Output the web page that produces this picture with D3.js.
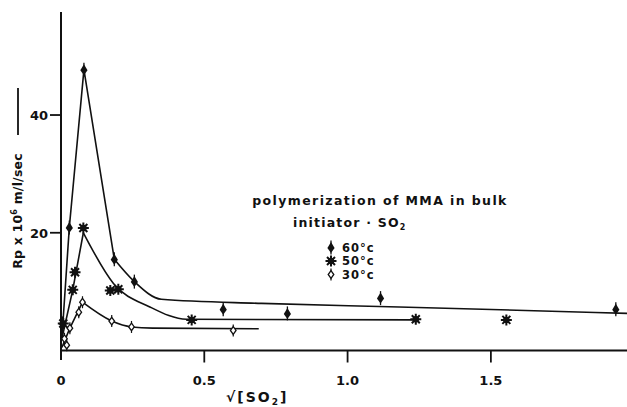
<!DOCTYPE html>
<html>
<head>
<meta charset="utf-8">
<script src="https://cdn.jsdelivr.net/npm/d3@7"></script>
<style>
  body { margin: 0; background: #fff; }
  svg text { font-family: "DejaVu Sans", sans-serif; fill: #111; }
</style>
</head>
<body>
<svg id="chart" width="627" height="407"></svg>
<script>
const x60 = [0.005, 0.029, 0.08, 0.186, 0.256, 0.566, 0.79, 1.115, 1.936];
const y60 = [4.6, 20.9, 47.7, 15.5, 11.7, 7.0, 6.3, 8.9, 7.0];
const x50 = [0.008, 0.041, 0.049, 0.078, 0.172, 0.2, 0.456, 1.238, 1.554];
const y50 = [4.6, 10.3, 13.3, 20.8, 10.2, 10.4, 5.2, 5.3, 5.2];
const x30 = [0.012, 0.02, 0.031, 0.062, 0.075, 0.177, 0.246, 0.601];
const y30 = [2.0, 0.9, 3.8, 6.5, 8.2, 5.0, 4.0, 3.4];

// Hand-drawn fit curves: rising part (straight) and decay part (smooth)
const rise60 = [[0.003, 2], [0.029, 20.9], [0.08, 47.7], [0.186, 15.5]];
const tail60 = [[0.186, 15.5], [0.256, 11.7], [0.35, 8.7], [0.7, 8.0], [1.18, 7.4], [1.975, 6.3]];
const rise50 = [[0.003, 2], [0.041, 10.3], [0.078, 20.0]];
const tail50 = [[0.078, 20.0], [0.183, 11.4], [0.31, 7.4], [0.438, 5.3], [1.238, 5.2]];
const rise30 = [[0.003, 0.5], [0.031, 3.8], [0.075, 8.2]];
const tail30 = [[0.075, 8.2], [0.177, 5.0], [0.246, 4.0], [0.32, 3.8], [0.69, 3.7]];

const xTicks = [0, 0.5, 1.0, 1.5];
const xTickLabels = ['0', '0.5', '1.0', '1.5'];
const yTicks = [20, 40];
const legendLabels = ['60°c', '50°c', '30°c'];

const svg = d3.select('#chart');

const x = d3.scaleLinear().domain([0, 1.975]).range([61, 627]);
const y = d3.scaleLinear().domain([0, 57.5]).range([350.5, 12]);

// Axes
svg.append('line').attr('x1', x(0)).attr('x2', 627).attr('y1', y(0)).attr('y2', y(0))
    .attr('stroke', '#111').attr('stroke-width', 2);
svg.append('line').attr('x1', x(0)).attr('x2', x(0)).attr('y1', 12).attr('y2', 360)
    .attr('stroke', '#111').attr('stroke-width', 2);

svg.selectAll('.xtick').data(xTicks.slice(1)).enter().append('line')
    .attr('x1', d => x(d)).attr('x2', d => x(d))
    .attr('y1', y(0)).attr('y2', y(0) + 12)
    .attr('stroke', '#111').attr('stroke-width', 1.8);
svg.selectAll('.xlab').data(xTicks).enter().append('text')
    .attr('x', d => x(d)).attr('y', 385)
    .attr('text-anchor', 'middle').attr('font-size', 13).attr('font-weight', 'bold')
    .text((d, i) => xTickLabels[i]);

svg.selectAll('.ytick').data(yTicks).enter().append('line')
    .attr('x1', x(0) - 11).attr('x2', x(0))
    .attr('y1', d => y(d)).attr('y2', d => y(d))
    .attr('stroke', '#111').attr('stroke-width', 1.8);
svg.selectAll('.ylab').data(yTicks).enter().append('text')
    .attr('x', 48).attr('y', d => y(d) + 5)
    .attr('text-anchor', 'end').attr('font-size', 13).attr('font-weight', 'bold')
    .text(d => d);

// x label
const xl = svg.append('text').attr('x', 226).attr('y', 402)
    .attr('font-size', 14).attr('font-weight', 'bold').attr('letter-spacing', 2);
xl.append('tspan').text('√[SO');
xl.append('tspan').attr('font-size', 9).attr('dy', 3).text('2');
xl.append('tspan').attr('dy', -3).text(']');

// y label
const yl = svg.append('g').attr('transform', 'translate(22,211) rotate(-90)');
const ylt = yl.append('text').attr('text-anchor', 'middle')
    .attr('font-size', 12.5).attr('font-weight', 'bold').attr('letter-spacing', 0.2);
ylt.append('tspan').text('Rp x 10');
ylt.append('tspan').attr('font-size', 8).attr('dy', -5).text('6');
ylt.append('tspan').attr('dy', 5).text(' m/l/sec');
yl.append('line').attr('x1', 76).attr('x2', 123).attr('y1', -4).attr('y2', -4)
    .attr('stroke', '#111').attr('stroke-width', 1.8);

// Curves
const straight = d3.line().x(d => x(d[0])).y(d => y(d[1]));
const smooth = d3.line().x(d => x(d[0])).y(d => y(d[1])).curve(d3.curveMonotoneX);
[rise60, rise50, rise30].forEach(c => {
    svg.append('path').attr('d', straight(c)).attr('fill', 'none')
        .attr('stroke', '#111').attr('stroke-width', 1.6);
});
[tail60, tail50, tail30].forEach(c => {
    svg.append('path').attr('d', smooth(c)).attr('fill', 'none')
        .attr('stroke', '#111').attr('stroke-width', 1.6);
});

// Marker drawers
function mark60(g) {
    g.append('path').attr('d', 'M0,-7V7').attr('stroke', '#111').attr('stroke-width', 1.3);
    g.append('path').attr('d', 'M0,-5.5L3.6,0.5L0,5.5L-3.6,0.5Z').attr('fill', '#111');
}
function mark50(g) {
    g.append('path').attr('d', 'M-5.5,0H5.5M0,-5.5V5.5M-4,-4L4,4M-4,4L4,-4')
        .attr('stroke', '#111').attr('stroke-width', 2);
    g.append('circle').attr('r', 3.2).attr('fill', '#111');
}
function mark30(g) {
    g.append('path').attr('d', 'M0,-6V6').attr('stroke', '#111').attr('stroke-width', 1.2);
    g.append('path').attr('d', 'M0,-3.8L2.8,0L0,3.8L-2.8,0Z')
        .attr('fill', '#fff').attr('stroke', '#111').attr('stroke-width', 1.3);
}

function drawPoints(xs, ys, fn) {
    xs.forEach((v, i) => {
        const g = svg.append('g').attr('transform', `translate(${x(v)},${y(ys[i])})`);
        fn(g);
    });
}
drawPoints(x60, y60, mark60);
drawPoints(x50, y50, mark50);
drawPoints(x30, y30, mark30);

// Legend / annotation
svg.append('text').attr('x', 380).attr('y', 205).attr('text-anchor', 'middle')
    .attr('font-size', 12.5).attr('font-weight', 'bold').attr('letter-spacing', 1.4)
    .text('polymerization of MMA in bulk');
const ini = svg.append('text').attr('x', 293).attr('y', 227)
    .attr('font-size', 12.5).attr('font-weight', 'bold').attr('letter-spacing', 1.2);
ini.append('tspan').text('initiator · SO');
ini.append('tspan').attr('font-size', 8).attr('dy', 3).text('2');

const legendY = [247.5, 261, 274.5];
const legendMarks = [mark60, mark50, mark30];
legendLabels.forEach((lab, i) => {
    const g = svg.append('g').attr('transform', `translate(331,${legendY[i]})`);
    legendMarks[i](g);
    svg.append('text').attr('x', 342).attr('y', legendY[i] + 4.2)
        .attr('font-size', 11.5).attr('font-weight', 'bold').attr('letter-spacing', 1)
        .text(lab);
});
</script>
</body>
</html>
